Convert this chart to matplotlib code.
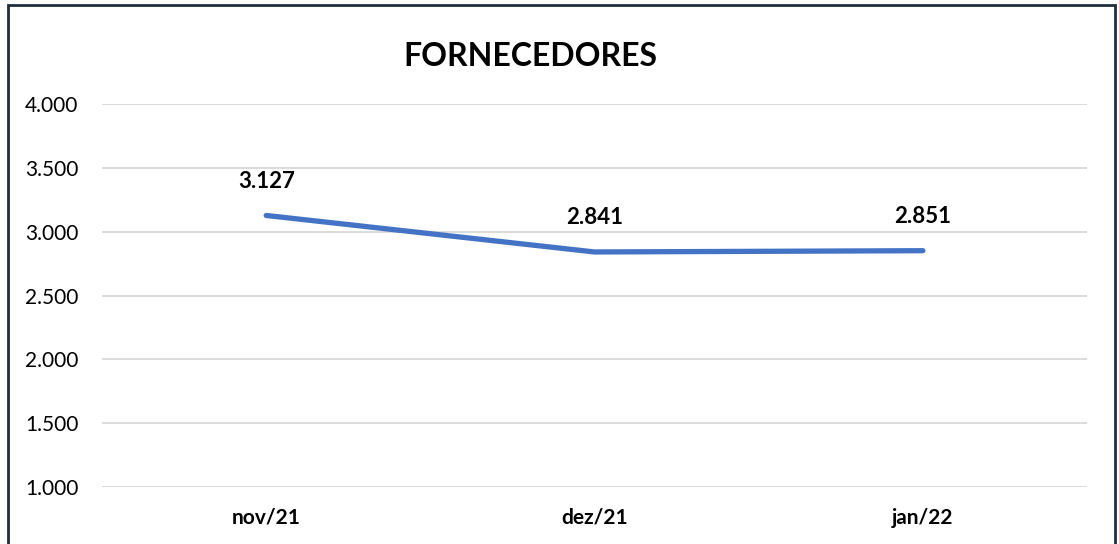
import matplotlib
matplotlib.use("Agg")
import matplotlib.pyplot as plt
from matplotlib.patches import Rectangle

# data
months = ["nov/21", "dez/21", "jan/22"]
suppliers = [3127, 2841, 2851]
y_ticks = [1000, 1500, 2000, 2500, 3000, 3500, 4000]


def fmt(v):
    # Brazilian thousands separator
    return f"{v:,.0f}".replace(",", ".")


def plot_chart():
    plt.rcParams['font.family'] = ['Lato', 'DejaVu Sans']
    fig = plt.figure(figsize=(11.19, 5.44), dpi=100)
    ax = fig.add_axes([0.0912, 0.1048, 0.8802, 0.704])

    # outer frame of the chart (bottom edge cut off in the original)
    fig.patches.append(Rectangle((8 / 1119, -0.05), 1107 / 1119, 1 - 5 / 544 + 0.05,
                                 transform=fig.transFigure, fill=False,
                                 edgecolor="#1f2d3d", linewidth=2))

    x = list(range(len(months)))
    ax.plot(x, suppliers, color="#4472C4", linewidth=3.8, solid_capstyle="round")
    for xi, v in zip(x, suppliers):
        ax.annotate(fmt(v), (xi, v), xytext=(0, 17), textcoords="offset points",
                    ha="center", va="bottom", fontsize=16, fontweight="bold")

    ax.set_xlim(-0.5, 2.5)
    ax.set_ylim(1000, 4000)
    ax.set_yticks(y_ticks)
    ax.set_yticklabels([fmt(t) for t in y_ticks], fontsize=15)
    ax.set_xticks(x)
    ax.set_xticklabels(months, fontsize=15, fontweight="bold")
    ax.tick_params(length=0)
    ax.tick_params(axis="y", pad=17)
    ax.tick_params(axis="x", pad=15)
    ax.grid(axis="y", color="#d9d9d9", linewidth=1.3)
    ax.set_axisbelow(True)
    for s in ax.spines.values():
        s.set_visible(False)

    fig.text(530 / 1119, 1 - 57 / 544, "FORNECEDORES", ha="center", va="center",
             fontsize=23, fontweight="bold")

    fig.savefig("out.png", dpi=100)


if __name__ == "__main__":
    plot_chart()
